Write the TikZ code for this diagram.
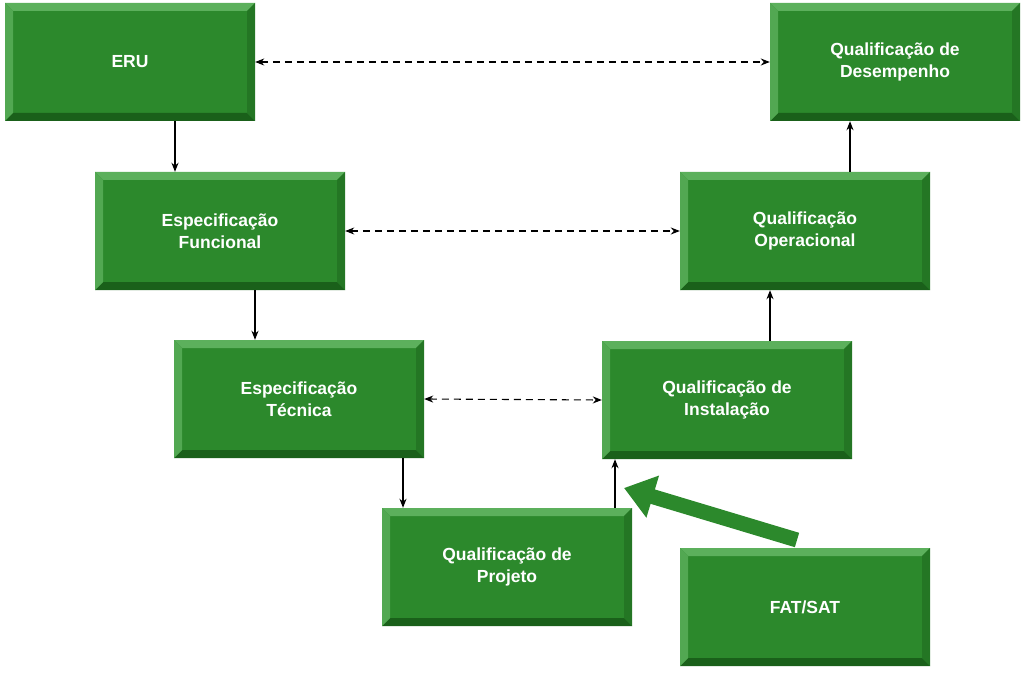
\documentclass[tikz,border=0pt]{standalone}
\usepackage{fontspec}
\setmainfont{Liberation Sans}
\usetikzlibrary{arrows.meta}
\definecolor{gmain}{RGB}{44,137,44}
\definecolor{glight}{RGB}{92,176,92}
\definecolor{gdark}{RGB}{26,96,26}
\definecolor{gside}{RGB}{36,118,36}
\tikzset{
  gbox/.style={rectangle, fill=gmain, minimum width=250pt, minimum height=118pt, inner sep=0pt,
    align=center, text=white, font=\fontsize{17.5}{21.5}\selectfont\bfseries,
    path picture={
      \fill[glight] (path picture bounding box.north west) -- (path picture bounding box.north east)
        -- ([shift={(-8pt,-8pt)}]path picture bounding box.north east) -- ([shift={(8pt,-8pt)}]path picture bounding box.north west) -- cycle;
      \fill[gdark] (path picture bounding box.south west) -- (path picture bounding box.south east)
        -- ([shift={(-8pt,8pt)}]path picture bounding box.south east) -- ([shift={(8pt,8pt)}]path picture bounding box.south west) -- cycle;
      \fill[glight!80!gmain] (path picture bounding box.south west) -- (path picture bounding box.north west)
        -- ([shift={(8pt,-8pt)}]path picture bounding box.north west) -- ([shift={(8pt,8pt)}]path picture bounding box.south west) -- cycle;
      \fill[gside] (path picture bounding box.south east) -- (path picture bounding box.north east)
        -- ([shift={(-8pt,-8pt)}]path picture bounding box.north east) -- ([shift={(-8pt,8pt)}]path picture bounding box.south east) -- cycle;
    }},
  flow/.style={-{Stealth[length=9pt,width=7pt]}, line width=1.3pt},
  link/.style={{Stealth[length=9pt,width=7pt]}-{Stealth[length=9pt,width=7pt]}, line width=1.1pt, dash pattern=on 7pt off 5pt},
  big/.style={line width=15pt, gmain, -{Triangle[length=30pt,width=42pt]}}
}
\begin{document}
\begin{tikzpicture}[x=1pt,y=-1pt]
\useasboundingbox (0,0) rectangle (1024,676);
\node[gbox] (eru) at (130,62) {ERU};
\node[gbox] (qd) at (895,62) {Qualificação de\\Desempenho};
\node[gbox] (ef) at (220,231) {Especificação\\Funcional};
\node[gbox] (qo) at (805,231) {Qualificação\\Operacional};
\node[gbox] (et) at (299,399) {Especificação\\Técnica};
\node[gbox] (qi) at (727,400) {Qualificação de\\Instalação};
\node[gbox] (qp) at (507,567) {Qualificação de\\Projeto};
\node[gbox] (fat) at (805,607) {FAT/SAT};
\draw[flow] (eru.south -| 175,0) -- (ef.north -| 175,0);
\draw[flow] (ef.south -| 255,0) -- (et.north -| 255,0);
\draw[flow] (et.south -| 403,0) -- (qp.north -| 403,0);
\draw[flow] (qp.north -| 615,0) -- (qi.south -| 615,0);
\draw[flow] (qi.north -| 770,0) -- (qo.south -| 770,0);
\draw[flow] (qo.north -| 850,0) -- (qd.south -| 850,0);
\draw[link] (eru.east) -- (qd.west);
\draw[link] (ef.east) -- (qo.west);
\draw[link] (et.east) -- (qi.west);
\coordinate (bs) at (797,540);
\coordinate (be) at (624,488);
\draw[big] (bs) -- (be);
\end{tikzpicture}
\end{document}
